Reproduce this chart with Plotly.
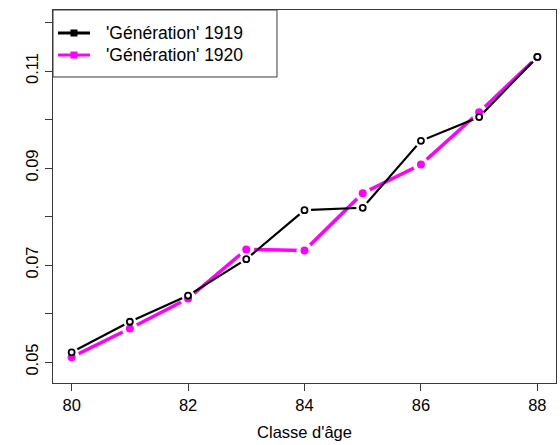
import plotly.graph_objects as go

ages = [80, 81, 82, 83, 84, 85, 86, 87, 88]
gen_1919 = [0.0520, 0.0583, 0.0637, 0.0712, 0.0813, 0.0818, 0.0956, 0.1005, 0.1129]
gen_1920 = [0.0510, 0.0569, 0.0631, 0.0732, 0.0730, 0.0848, 0.0907, 0.1015, 0.1129]
name_1919 = "'Génération' 1919"
name_1920 = "'Génération' 1920"
y_tickvals = [0.05, 0.06, 0.07, 0.08, 0.09, 0.10, 0.11, 0.12]
y_ticktext = ["0.05", "", "0.07", "", "0.09", "", "0.11", ""]
x_tickvals = [80, 82, 84, 86, 88]

FONT = "Liberation Sans, Arial, sans-serif"
MAG = "#FF00FF"
AX = "#3a3a3a"

fig = go.Figure()

# magenta series (type "b": line with gaps around points)
fig.add_trace(go.Scatter(x=ages, y=gen_1920, mode="lines", line=dict(color=MAG, width=3.5),
                         showlegend=False, hoverinfo="skip"))
fig.add_trace(go.Scatter(x=ages, y=gen_1920, mode="markers",
                         marker=dict(color="white", size=16, line=dict(width=0)),
                         showlegend=False, hoverinfo="skip"))
# black series
fig.add_trace(go.Scatter(x=ages, y=gen_1919, mode="lines", line=dict(color="black", width=2.2),
                         showlegend=False, hoverinfo="skip"))
fig.add_trace(go.Scatter(x=ages, y=gen_1919, mode="markers",
                         marker=dict(color="white", size=13, line=dict(width=0)),
                         showlegend=False, hoverinfo="skip"))
# points
fig.add_trace(go.Scatter(x=ages, y=gen_1920, mode="markers", name=name_1920,
                         marker=dict(color=MAG, size=8, symbol="circle", line=dict(width=0)),
                         showlegend=False))
fig.add_trace(go.Scatter(x=ages, y=gen_1919, mode="markers", name=name_1919,
                         marker=dict(color="white", size=6, symbol="circle",
                                     line=dict(color="black", width=1.8)),
                         showlegend=False))

# custom legend box (paper coordinates of the plot area)
leg_x1, leg_y0 = 0.4453, 0.8204
rows = [(0.9383, "black", name_1919), (0.8794, MAG, name_1920)]
shapes = [dict(type="rect", xref="paper", yref="paper", x0=0, x1=leg_x1, y0=leg_y0, y1=1,
               line=dict(color=AX, width=1), fillcolor="white", layer="above")]
annotations = []
for ry, col, label in rows:
    shapes.append(dict(type="line", xref="paper", yref="paper", x0=0.0099, x1=0.0736,
                       y0=ry, y1=ry, line=dict(color=col, width=3), layer="above"))
    shapes.append(dict(type="rect", xref="paper", yref="paper", x0=0.0417 - 0.0055,
                       x1=0.0417 + 0.0055, y0=ry - 0.0075, y1=ry + 0.0075,
                       line=dict(color=col, width=1.5), fillcolor=col, layer="above"))
    annotations.append(dict(xref="paper", yref="paper", x=0.1014, y=ry, xanchor="left",
                            yanchor="middle", text=label, showarrow=False,
                            font=dict(size=17.5, family=FONT, color="black")))

fig.update_layout(
    width=560, height=445,
    margin=dict(l=53, r=4, t=10, b=62),
    paper_bgcolor="white", plot_bgcolor="white",
    font=dict(family=FONT, size=16, color="black"),
    showlegend=False,
    shapes=shapes, annotations=annotations,
)
fig.update_xaxes(range=[79.68, 88.32], tickvals=x_tickvals, ticks="outside", ticklen=7,
                 tickcolor=AX, showline=True, linecolor=AX, linewidth=1, mirror=True,
                 showgrid=False, zeroline=False, tickfont=dict(size=16.5),
                 title=dict(text="Classe d'âge", font=dict(size=16.5), standoff=13))
fig.update_yaxes(range=[0.04567, 0.12258], tickvals=y_tickvals, ticktext=y_ticktext,
                 ticks="outside", ticklen=7, tickcolor=AX, showline=True, linecolor=AX,
                 linewidth=1, mirror=True, showgrid=False, zeroline=False, tickangle=-90,
                 tickfont=dict(size=16.5))

fig.write_html("out.html")
